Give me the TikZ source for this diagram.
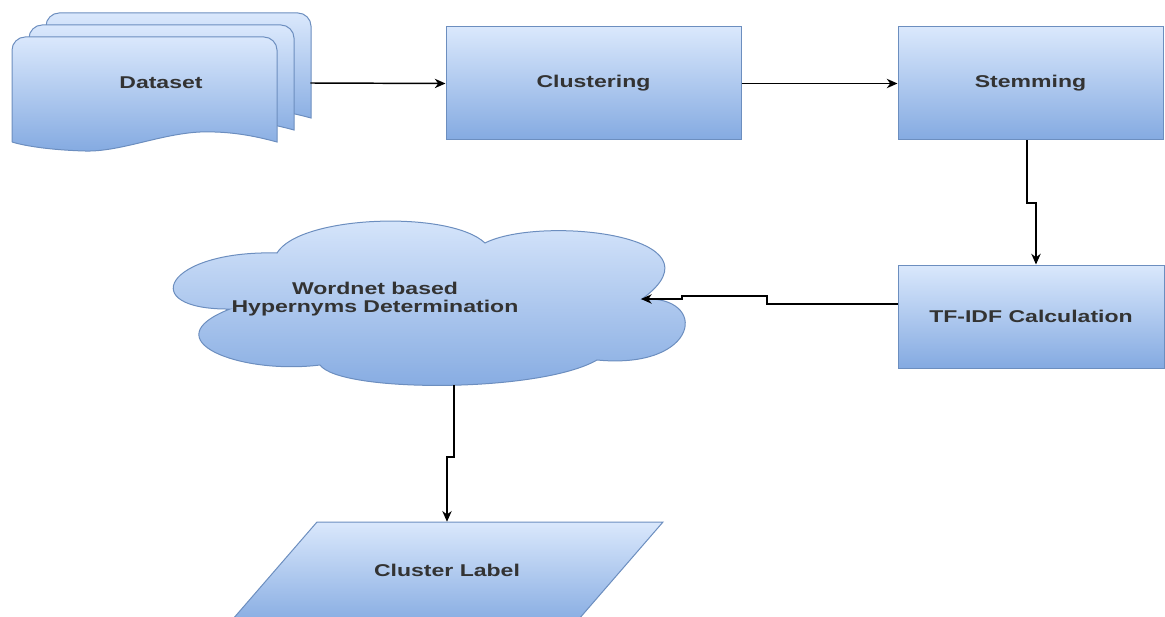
\documentclass[tikz,border=0pt]{standalone}
\usepackage{fontspec}
\setmainfont{Liberation Sans}
\usetikzlibrary{arrows.meta}
\definecolor{topblue}{HTML}{DAE8FC}
\definecolor{botblue}{HTML}{84AAE1}
\definecolor{strokeblue}{HTML}{6C8EBF}
\definecolor{txt}{HTML}{333333}
\newcommand{\hs}[1]{\scalebox{1.35}[1]{#1}}
\newcommand{\docpath}{(12,142) -- (12,50) .. controls (12,43) and (18,37) .. (25,37) -- (264,37) .. controls (271,37) and (277,43) .. (277,50) -- (277,142) .. controls (255,136) and (230,131) .. (200,132) .. controls (160,134) and (120,152) .. (85,151) .. controls (50,150) and (25,146) .. (12,142)}
\tikzset{
  shapefill/.style={draw=strokeblue, line width=0.75pt, top color=topblue, bottom color=botblue},
  boxnode/.style={shapefill, rectangle, inner sep=0pt, text=txt, font=\fontsize{12.8}{13}\selectfont\bfseries},
  plain/.style={inner sep=0pt, text=txt, font=\fontsize{12.8}{13}\selectfont\bfseries, align=center},
  arr/.style={-{Stealth[length=8pt,width=7pt,inset=2.5pt]}, line width=1.1pt, black},
}
\begin{document}
\begin{tikzpicture}[x=0.75pt,y=-0.75pt]
\useasboundingbox (0,0) rectangle (1165,617);
\clip (0,0) rectangle (1165,617);
% Dataset stack
\begin{scope}[shift={(34,-24)}]
  \path[shapefill] \docpath;
\end{scope}
\begin{scope}[shift={(17,-12)}]
  \path[shapefill] \docpath;
\end{scope}
\path[shapefill] \docpath;
\node[plain, minimum width=298*0.75pt, minimum height=120*0.75pt] (dataset) at (161,83) {\hs{Dataset}};
% boxes
\node[boxnode, minimum width=295*0.75pt, minimum height=113*0.75pt] (clustering) at (593.5,83.5) {\hs{Clustering}};
\node[boxnode, minimum width=265*0.75pt, minimum height=113*0.75pt] (stemming) at (1030.5,83.5) {\hs{Stemming}};
\node[boxnode, minimum width=266*0.75pt, minimum height=103*0.75pt] (tfidf) at (1031,316.5) {\hs{TF-IDF Calculation}};
% cloud
\path[shapefill] (277,253)
  .. controls (300,215) and (450,210) .. (485,243)
  .. controls (540,215) and (730,235) .. (642,299)
  .. controls (710,295) and (700,370) .. (597,360)
  .. controls (540,393) and (340,393) .. (320,365)
  .. controls (240,375) and (150,340) .. (230,309)
  .. controls (135,310) and (165,250) .. (277,253) -- cycle;
\node[plain] (cloud) at (375,299) {\hs{Wordnet based}\\\hs{Hypernyms Determination}};
% cluster label parallelogram
\path[shapefill] (317,522) -- (663,522) -- (572,627) -- (226,627) -- cycle;
\node[plain, minimum width=200*0.75pt, minimum height=96*0.75pt] (clabel) at (447,570) {\hs{Cluster Label}};
% connectors
\draw[arr] (dataset.east) -- (clustering.west);
\draw[arr] (clustering.east) -- (stemming.west);
\coordinate (j1) at (1027,203);
\coordinate (j2) at (1036,203);
\draw[arr] (stemming.south -| j1) -- (j1) -- (j2) -- (tfidf.north -| j2);
\coordinate (k1) at (767,304);
\coordinate (k2) at (767,296);
\coordinate (k3) at (682,296);
\coordinate (k4) at (682,299);
\coordinate (ctip) at (641,299);
\draw[arr] (tfidf.west |- k1) -- (k1) -- (k2) -- (k3) -- (k4) -- (ctip);
\coordinate (m1) at (454,457);
\coordinate (m2) at (447,457);
\coordinate (cbot) at (454,385);
\draw[arr] (cbot) -- (m1) -- (m2) -- (clabel.north -| m2);
\end{tikzpicture}
\end{document}
